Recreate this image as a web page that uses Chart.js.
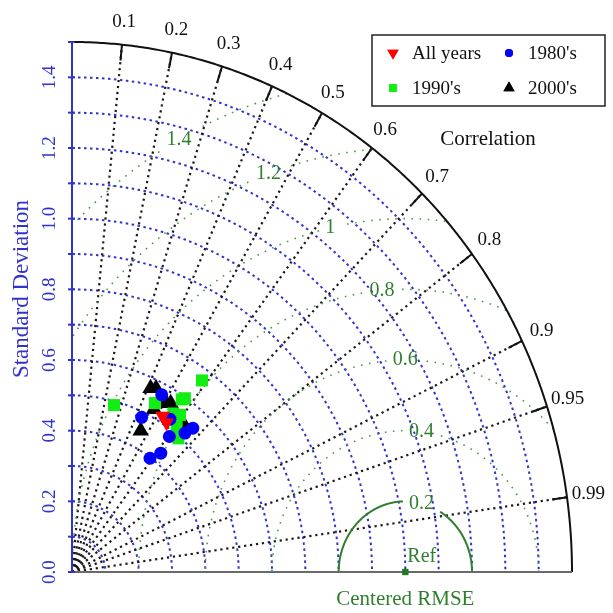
<!DOCTYPE html>
<html>
<head>
<meta charset="utf-8">
<script src="https://cdn.jsdelivr.net/npm/chart.js@4.4.1/dist/chart.umd.min.js"></script>
<style>
  html, body { margin: 0; padding: 0; background: #fff; }
</style>
</head>
<body>
<canvas id="taylor" width="613" height="613"></canvas>
<script>
// standard deviation / correlation of each simulation, grouped by period
const allYearsStd  = [0.518, 0.509];
const allYearsCorr = [0.524, 0.557];

const std1980s  = [0.569, 0.485, 0.523, 0.482, 0.519, 0.545, 0.398, 0.429];
const corr1980s = [0.473, 0.431, 0.562, 0.606, 0.653, 0.665, 0.588, 0.621];

const std1990s  = [0.489, 0.668, 0.539, 0.589, 0.597, 0.542, 0.550, 0.517, 0.495];
const corr1990s = [0.258, 0.584, 0.462, 0.559, 0.567, 0.561, 0.589, 0.607, 0.645];

const std2000s  = [0.571, 0.578, 0.522, 0.553, 0.562, 0.450, 0.537];
const corr2000s = [0.413, 0.436, 0.471, 0.505, 0.527, 0.458, 0.622];

const refStd = [1.0];
const refCorr = [1.0];

// grid levels
const maxStd = 1.5;
const stdArcs = [0.1, 0.2, 0.3, 0.4, 0.5, 0.6, 0.7, 0.8, 0.9, 1.0, 1.1, 1.2, 1.3, 1.4];
const stdTicks = [0, 0.1, 0.2, 0.3, 0.4, 0.5, 0.6, 0.7, 0.8, 0.9, 1.0, 1.1, 1.2, 1.3, 1.4, 1.5];
const stdTickLabels = ['0.0', '0.2', '0.4', '0.6', '0.8', '1.0', '1.2', '1.4'];
const corrLines = [0.1, 0.2, 0.3, 0.4, 0.5, 0.6, 0.7, 0.8, 0.9, 0.95, 0.99];
const corrLabels = ['0.1', '0.2', '0.3', '0.4', '0.5', '0.6', '0.7', '0.8', '0.9', '0.95', '0.99'];
const rmseLevels = [0.2, 0.4, 0.6, 0.8, 1.0, 1.2, 1.4];
const rmseLabels = ['0.2', '0.4', '0.6', '0.8', '1', '1.2', '1.4'];
// where each RMSE label sits on its circle (degrees around the reference point)
const rmseLabelAngle = [76, 83, 90, 95, 103, 110, 119];

const SERIF = '"Liberation Serif", "Times New Roman", serif';
const BLUE = '#3232cc';
const GREEN = '#2f7f2f';

function toPoints(stds, corrs) {
  return stds.map((s, i) => ({
    x: s * corrs[i],
    y: s * Math.sqrt(Math.max(0, 1 - corrs[i] * corrs[i]))
  }));
}

const taylorGrid = {
  id: 'taylorGrid',
  beforeDatasetsDraw(chart) {
    const ctx = chart.ctx;
    const xs = chart.scales.x, ys = chart.scales.y;
    const P = (x, y) => [xs.getPixelForValue(x), ys.getPixelForValue(y)];
    const polar = (r, a) => P(r * Math.cos(a), r * Math.sin(a));

    ctx.save();
    ctx.lineCap = 'butt';

    // standard deviation arcs
    ctx.strokeStyle = BLUE;
    ctx.lineWidth = 2;
    ctx.setLineDash([2.5, 3.5]);
    stdArcs.forEach(r => {
      ctx.beginPath();
      for (let i = 0; i <= 200; i++) {
        const a = Math.PI / 2 - (i / 200) * Math.PI / 2;
        const [px, py] = polar(r, a);
        i ? ctx.lineTo(px, py) : ctx.moveTo(px, py);
      }
      ctx.stroke();
    });

    // correlation rays
    ctx.strokeStyle = '#1a1a1a';
    ctx.lineWidth = 2.2;
    ctx.setLineDash([2.2, 3.8]);
    corrLines.forEach(c => {
      const a = Math.acos(c);
      const [x0, y0] = P(0, 0);
      const [x1, y1] = polar(maxStd, a);
      ctx.beginPath();
      ctx.moveTo(x0, y0);
      ctx.lineTo(x1, y1);
      ctx.stroke();
    });

    // centred RMSE circles around the reference
    ctx.font = '20px ' + SERIF;
    ctx.textAlign = 'center';
    ctx.textBaseline = 'middle';
    rmseLevels.forEach((rho, k) => {
      const la = rmseLabelAngle[k] * Math.PI / 180;
      const [lx, ly] = P(refStd[0] + rho * Math.cos(la), rho * Math.sin(la));
      const hw = ctx.measureText(rmseLabels[k]).width / 2 + 6;
      const hh = 12;
      const solid = k === 0;
      ctx.strokeStyle = solid ? GREEN : '#4c9a4c';
      ctx.lineWidth = solid ? 2 : 1.6;
      ctx.setLineDash(solid ? [] : [1.6, 6.5]);
      ctx.beginPath();
      let pen = false;
      for (let i = 0; i <= 600; i++) {
        const phi = (i / 600) * Math.PI;
        const x = refStd[0] + rho * Math.cos(phi);
        const y = rho * Math.sin(phi);
        const [px, py] = P(x, y);
        const inside = x >= 0 && x * x + y * y <= maxStd * maxStd;
        const gap = Math.abs(px - lx) < hw && Math.abs(py - ly) < hh;
        if (!inside || gap) { pen = false; continue; }
        pen ? ctx.lineTo(px, py) : ctx.moveTo(px, py);
        pen = true;
      }
      ctx.stroke();
      ctx.fillStyle = GREEN;
      ctx.fillText(rmseLabels[k], lx, ly);
    });

    ctx.setLineDash([]);

    // outer boundary
    ctx.strokeStyle = '#111';
    ctx.lineWidth = 2;
    ctx.beginPath();
    for (let i = 0; i <= 300; i++) {
      const a = (i / 300) * Math.PI / 2;
      const [px, py] = polar(maxStd, a);
      i ? ctx.lineTo(px, py) : ctx.moveTo(px, py);
    }
    ctx.stroke();

    // correlation ticks and labels
    ctx.fillStyle = '#111';
    ctx.font = '19px ' + SERIF;
    corrLines.forEach((c, k) => {
      const a = Math.acos(c);
      const [x0, y0] = polar(maxStd - 0.045, a);
      const [x1, y1] = polar(maxStd, a);
      ctx.beginPath();
      ctx.moveTo(x0, y0);
      ctx.lineTo(x1, y1);
      ctx.stroke();
      const [tx, ty] = polar(1.565, a);
      ctx.fillText(corrLabels[k], tx, ty);
    });

    // x axis
    const [ax0, ay0] = P(0, 0);
    const [ax1] = P(maxStd, 0);
    ctx.strokeStyle = '#6a6a6a';
    ctx.lineWidth = 2;
    ctx.beginPath();
    ctx.moveTo(ax0, ay0);
    ctx.lineTo(ax1, ay0);
    ctx.stroke();

    // y axis with ticks
    const [, ayTop] = P(0, maxStd);
    ctx.strokeStyle = BLUE;
    ctx.beginPath();
    ctx.moveTo(ax0, ay0);
    ctx.lineTo(ax0, ayTop);
    ctx.stroke();
    stdTicks.forEach(t => {
      const [, ty] = P(0, t);
      ctx.beginPath();
      ctx.moveTo(ax0 - 4, ty);
      ctx.lineTo(ax0 + 3, ty);
      ctx.stroke();
    });
    ctx.fillStyle = BLUE;
    ctx.font = '19px ' + SERIF;
    stdTickLabels.forEach(lab => {
      const [, ty] = P(0, parseFloat(lab));
      ctx.save();
      ctx.translate(ax0 - 22, ty);
      ctx.rotate(-Math.PI / 2);
      ctx.fillText(lab, 0, 0);
      ctx.restore();
    });

    // axis titles
    ctx.save();
    ctx.font = '23px ' + SERIF;
    ctx.translate(22, 289);
    ctx.rotate(-Math.PI / 2);
    ctx.fillText('Standard Deviation', 0, 0);
    ctx.restore();

    ctx.fillStyle = GREEN;
    ctx.font = '21px ' + SERIF;
    ctx.fillText('Centered RMSE', P(refStd[0], 0)[0], 599);
    ctx.font = '20px ' + SERIF;
    ctx.textAlign = 'left';
    ctx.fillText('Ref', P(refStd[0], 0)[0] + 2, 557);

    ctx.fillStyle = '#111';
    ctx.textAlign = 'center';
    ctx.font = '21px ' + SERIF;
    ctx.fillText('Correlation', 488, 139);
    ctx.restore();
  },
  afterDatasetsDraw(chart) {
    // legend box, two entries per row
    const ctx = chart.ctx;
    const sets = chart.data.datasets.slice(0, 4);
    const slots = [[393, 53], [509, 53], [393, 88], [509, 88]];
    const legendSizes = [6.5, 4, 5.5, 6.5];
    ctx.save();
    ctx.fillStyle = '#fff';
    ctx.fillRect(372, 35, 233, 71);
    ctx.strokeStyle = '#222';
    ctx.lineWidth = 1.5;
    ctx.strokeRect(372, 35, 233, 71);
    ctx.font = '19px ' + SERIF;
    ctx.textAlign = 'left';
    ctx.textBaseline = 'middle';
    sets.forEach((ds, i) => {
      const [x, y] = slots[i];
      ctx.fillStyle = ds.backgroundColor;
      Chart.helpers.drawPoint(ctx, {
        pointStyle: ds.pointStyle,
        rotation: ds.rotation || 0,
        radius: legendSizes[i],
        borderWidth: 0
      }, x, y);
      ctx.fill();
      ctx.fillStyle = '#111';
      ctx.fillText(ds.label, x + 19, y + 1);
    });
    ctx.restore();
  }
};

const ctx = document.getElementById('taylor').getContext('2d');
new Chart(ctx, {
  type: 'scatter',
  data: {
    datasets: [
      {
        label: 'All years',
        data: toPoints(allYearsStd, allYearsCorr),
        pointStyle: 'triangle', rotation: 180, pointRadius: 8.5,
        backgroundColor: '#ff0000', borderColor: '#ff0000', borderWidth: 0
      },
      {
        label: "1980's",
        data: toPoints(std1980s, corr1980s),
        pointStyle: 'circle', pointRadius: 6.5,
        backgroundColor: '#0000ff', borderColor: '#0000ff', borderWidth: 0
      },
      {
        label: "1990's",
        data: toPoints(std1990s, corr1990s),
        pointStyle: 'rect', pointRadius: 8.5,
        backgroundColor: '#11ee11', borderColor: '#11ee11', borderWidth: 0
      },
      {
        label: "2000's",
        data: toPoints(std2000s, corr2000s),
        pointStyle: 'triangle', pointRadius: 9.5,
        backgroundColor: '#000000', borderColor: '#000000', borderWidth: 0
      },
      {
        label: 'Ref',
        data: toPoints(refStd, refCorr),
        pointStyle: 'rect', pointRadius: 4.5, clip: false,
        backgroundColor: '#1f7a1f', borderColor: '#1f7a1f', borderWidth: 0
      }
    ]
  },
  options: {
    responsive: false,
    animation: false,
    events: [],
    layout: { padding: { left: 72, right: 41, top: 42, bottom: 41 } },
    plugins: { legend: { display: false }, tooltip: { enabled: false } },
    scales: {
      x: { type: 'linear', min: 0, max: maxStd, display: false },
      y: { type: 'linear', min: 0, max: maxStd, display: false }
    }
  },
  plugins: [taylorGrid]
});
</script>
</body>
</html>
